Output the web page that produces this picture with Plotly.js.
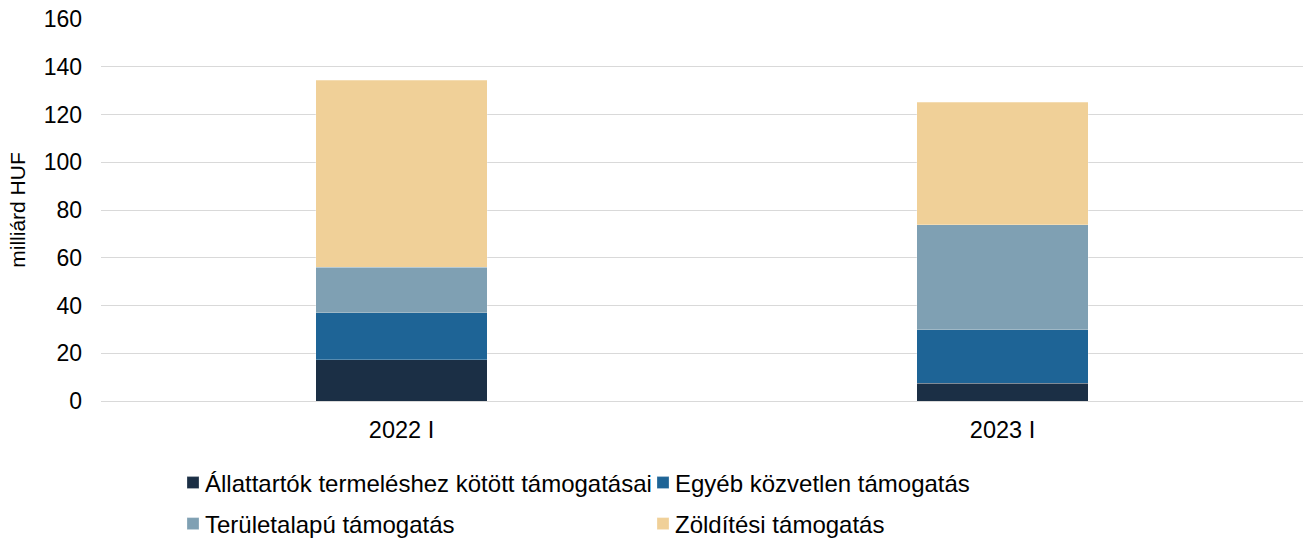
<!DOCTYPE html>
<html>
<head>
<meta charset="utf-8">
<script src="https://cdn.plot.ly/plotly-3.0.1.min.js"></script>
<style>html,body{margin:0;padding:0;background:#fff;}#chart{width:1306px;height:541px;}</style>
</head>
<body>
<div id="chart"></div>
<script>
const categories = ["2022 I", "2023 I"];
const seriesNames = [
  "Állattartók termeléshez kötött támogatásai",
  "Egyéb közvetlen támogatás",
  "Területalapú támogatás",
  "Zöldítési támogatás"
];
const allattartok = [17.2, 7.5];
const egyeb = [19.8, 22.4];
const teruletalapu = [19.0, 43.9];
const zolditesi = [78.3, 51.3];
const yTicks = [0, 20, 40, 60, 80, 100, 120, 140, 160];
const yTitle = "milliárd HUF";

const colors = ["#1b2f45", "#1e6496", "#7fa0b3", "#f0d098"];
const values = [allattartok, egyeb, teruletalapu, zolditesi];
const legendIds = ["legend", "legend2", "legend3", "legend4"];

const traces = values.map((v, i) => ({
  type: "bar",
  name: seriesNames[i],
  x: categories,
  y: v,
  width: 0.286,
  marker: {color: colors[i], line: {color: "rgba(255,255,255,0.5)", width: 0.5}},
  legend: legendIds[i],
  hoverinfo: "name+y"
}));

const font = {family: "Liberation Sans, Arial, sans-serif", color: "#000"};
function leg(xpx, ycenter) {
  return {
    xref: "container", yref: "container",
    x: xpx / 1306, y: 1 - ycenter / 541,
    xanchor: "left", yanchor: "middle",
    orientation: "h",
    font: Object.assign({}, font, {size: 24}),
    bgcolor: "rgba(0,0,0,0)",
    borderwidth: 0,
    itemwidth: 30
  };
}

const layout = {
  width: 1306, height: 541,
  margin: {l: 101, r: 3, t: 19, b: 140},
  paper_bgcolor: "#fff", plot_bgcolor: "#fff",
  font: Object.assign({}, font, {size: 23}),
  barmode: "stack",
  showlegend: true,
  xaxis: {
    type: "category",
    showgrid: false, showline: false, zeroline: false,
    ticks: "", ticklabelstandoff: 12,
    tickfont: Object.assign({}, font, {size: 23.5})
  },
  yaxis: {
    range: [0, 160],
    tickvals: yTicks,
    ticktext: yTicks.map(String),
    showgrid: true, gridcolor: "#d9d9d9", gridwidth: 1,
    zeroline: true, zerolinecolor: "#d9d9d9", zerolinewidth: 1,
    showline: false, ticks: "",
    ticklabelstandoff: 18,
    tickfont: Object.assign({}, font, {size: 23}),
    title: {text: yTitle, font: Object.assign({}, font, {size: 21}), standoff: 12}
  },
  legend: leg(165, 483),
  legend2: leg(635, 483),
  legend3: leg(165, 524),
  legend4: leg(635, 524)
};

Plotly.newPlot("chart", traces, layout, {displayModeBar: false, staticPlot: true}).then(() => {
  // bring the legend swatches closer to their labels, as in the reference
  document.querySelectorAll("#chart .legendpoints").forEach(el => {
    el.setAttribute("transform", "translate(8,0)");
  });
});
</script>
</body>
</html>
